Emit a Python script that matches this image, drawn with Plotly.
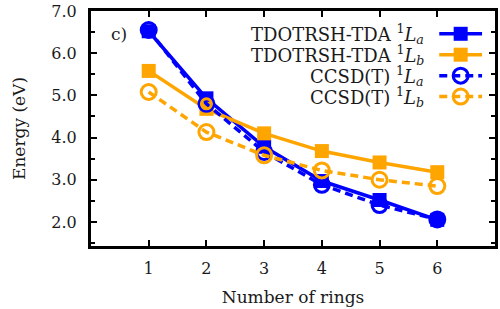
import plotly.graph_objects as go

rings = [1, 2, 3, 4, 5, 6]
tda_la = [6.52, 4.93, 3.78, 2.97, 2.52, 2.05]
tda_lb = [5.58, 4.68, 4.10, 3.68, 3.41, 3.18]
ccsd_la = [6.55, 4.80, 3.66, 2.88, 2.40, 2.06]
ccsd_lb = [5.08, 4.13, 3.58, 3.22, 3.00, 2.85]
ccsd_lb_extra_x = [2]
ccsd_lb_extra_y = [4.80]

labels = ["TDOTRSH-TDA <sup>1</sup><i>L<sub>a</sub></i>",
          "TDOTRSH-TDA <sup>1</sup><i>L<sub>b</sub></i>",
          "CCSD(T) <sup>1</sup><i>L<sub>a</sub></i>",
          "CCSD(T) <sup>1</sup><i>L<sub>b</sub></i>"]

BLUE = "#0000FF"
ORANGE = "#FFA500"
FONT = "DejaVu Serif"
TXT = "#1a1a1a"
DASH = "8px,5px"

styles = [
    dict(color=BLUE, dash="solid", symbol="square", size=14, lw=0),
    dict(color=ORANGE, dash="solid", symbol="square", size=14, lw=0),
    dict(color=BLUE, dash=DASH, symbol="circle-open", size=15, lw=3),
    dict(color=ORANGE, dash=DASH, symbol="circle-open", size=15, lw=3),
]
series = [tda_la, tda_lb, ccsd_la, ccsd_lb]

fig = go.Figure()
for ys, st in zip(series, styles):
    fig.add_trace(go.Scatter(
        x=rings, y=ys, mode="lines+markers",
        line=dict(color=st["color"], width=3.5, dash=st["dash"]),
        marker=dict(symbol=st["symbol"], size=st["size"], color=st["color"],
                    line=dict(color=st["color"], width=st["lw"])),
        showlegend=False, cliponaxis=False))

fig.add_trace(go.Scatter(
    x=ccsd_lb_extra_x, y=ccsd_lb_extra_y, mode="markers",
    marker=dict(symbol="circle-open", size=10, color=ORANGE,
                line=dict(color=ORANGE, width=3)),
    showlegend=False))

# manual legend (symbols to the right of the text)
leg_rows = [0.903, 0.814, 0.725, 0.636]
for row, st, lab in zip(leg_rows, styles, labels):
    fig.add_trace(go.Scatter(
        x=[0.862, 0.968], y=[row, row], mode="lines",
        line=dict(color=st["color"], width=3.5, dash=st["dash"]),
        xaxis="x2", yaxis="y2", showlegend=False, hoverinfo="skip"))
    fig.add_trace(go.Scatter(
        x=[0.915], y=[row], mode="markers",
        marker=dict(symbol=st["symbol"], size=st["size"], color=st["color"],
                    line=dict(color=st["color"], width=st["lw"])),
        xaxis="x2", yaxis="y2", showlegend=False, hoverinfo="skip"))
    fig.add_annotation(x=0.828, y=row, xref="paper", yref="paper",
                       text=lab, showarrow=False, xanchor="right", yanchor="middle",
                       font=dict(family=FONT, size=18, color=TXT))

fig.add_annotation(x=0.07, y=0.903, xref="paper", yref="paper", text="c)",
                   showarrow=False, xanchor="center", yanchor="middle",
                   font=dict(family=FONT, size=17, color=TXT))

axis_common = dict(showgrid=False, zeroline=False, showline=True, linecolor="black",
                   linewidth=3, mirror="ticks", ticks="inside", ticklen=6,
                   tickwidth=2, tickcolor="black",
                   tickfont=dict(family=FONT, size=16, color=TXT))

fig.update_layout(
    width=500, height=309,
    margin=dict(l=91, r=2, t=10, b=63),
    paper_bgcolor="white", plot_bgcolor="white",
    xaxis=dict(range=[0, 7], tickvals=rings, ticktext=[str(r) for r in rings],
               ticklabelstandoff=6,
               title=dict(text="Number of rings", standoff=14,
                          font=dict(family=FONT, size=17, color=TXT)),
               **axis_common),
    yaxis=dict(range=[1.43, 7.0], tickvals=[2, 3, 4, 5, 6, 7], tickformat=".1f",
               ticklabelstandoff=8,
               minor=dict(tickvals=[1.5, 2.5, 3.5, 4.5, 5.5, 6.5], ticks="inside",
                          ticklen=4, tickwidth=2, tickcolor="black"),
               title=dict(text="Energy (eV)", standoff=22,
                          font=dict(family=FONT, size=17, color=TXT)),
               **axis_common),
    xaxis2=dict(range=[0, 1], overlaying="x", visible=False, fixedrange=True),
    yaxis2=dict(range=[0, 1], overlaying="y", visible=False, fixedrange=True),
)

fig.write_html("out.html")
